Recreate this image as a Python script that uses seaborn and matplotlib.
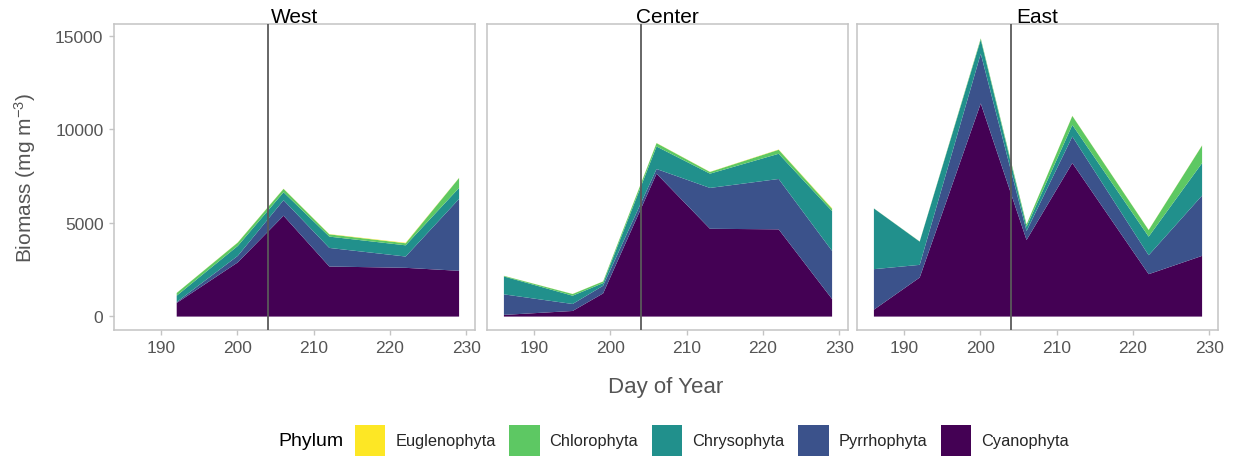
import numpy as np
import pandas as pd
import matplotlib
matplotlib.use("Agg")
import matplotlib.pyplot as plt
from matplotlib.patches import Patch
import seaborn as sns

# ---------------- data ----------------
sites = ["West", "Center", "East"]
phyla = ["Euglenophyta", "Chlorophyta", "Chrysophyta", "Pyrrhophyta", "Cyanophyta"]

west_days = [192, 200, 206, 212, 222, 229]
west_cyano = [730, 2900, 5400, 2680, 2610, 2450]
west_pyrrho = [50, 350, 830, 995, 605, 3850]
west_chryso = [340, 530, 425, 605, 600, 590]
west_chloro = [144, 180, 180, 120, 110, 530]
west_eugleno = [5, 10, 10, 15, 25, 10]

center_days = [186, 195, 199, 206, 213, 222, 229]
center_cyano = [90, 300, 1240, 7650, 4700, 4670, 940]
center_pyrrho = [1100, 374, 411, 250, 2187, 2696, 2574]
center_chryso = [958, 444, 142, 1205, 763, 1349, 2131]
center_chloro = [32, 89, 88, 178, 90, 213, 124]
center_eugleno = [5, 5, 5, 10, 10, 15, 30]

east_days = [186, 192, 200, 206, 212, 222, 229]
east_cyano = [370, 2090, 11410, 4100, 8220, 2270, 3250]
east_pyrrho = [2168, 679, 2665, 479, 1418, 1014, 3229]
east_chryso = [3248, 1242, 746, 231, 621, 994, 1739]
east_chloro = [4, 9, 69, 124, 480, 355, 941]
east_eugleno = [2, 2, 5, 5, 10, 10, 10]

event_day = 204
x_ticks = [190, 200, 210, 220, 230]
y_ticks = [0, 5000, 10000, 15000]

# ---------------- long table ----------------
rows = []
for site, days, series in [
    ("West", west_days, [west_eugleno, west_chloro, west_chryso, west_pyrrho, west_cyano]),
    ("Center", center_days, [center_eugleno, center_chloro, center_chryso, center_pyrrho, center_cyano]),
    ("East", east_days, [east_eugleno, east_chloro, east_chryso, east_pyrrho, east_cyano]),
]:
    for ph, vals in zip(phyla, series):
        for d, v in zip(days, vals):
            rows.append({"Site": site, "Day": d, "Phylum": ph, "Biomass": v})
df = pd.DataFrame(rows)

# ---------------- style ----------------
sns.set_theme(style="white")
plt.rcParams["font.family"] = ["Liberation Sans", "DejaVu Sans"]
plt.rcParams["mathtext.fontset"] = "custom"
plt.rcParams["mathtext.rm"] = "Liberation Sans"
plt.rcParams["mathtext.it"] = "Liberation Sans:italic"

colors = {"Euglenophyta": "#FDE725", "Chlorophyta": "#5DC863", "Chrysophyta": "#21908C",
          "Pyrrhophyta": "#3B528B", "Cyanophyta": "#440154"}
stack_order = phyla[::-1]  # Cyanophyta at bottom

W, H = 1236, 460
fig = plt.figure(figsize=(W / 100, H / 100), dpi=100)

panel_lefts = [114, 487, 857]
panel_w = 361
panel_top, panel_bot = 25, 331
border_col = "#C4C4C4"
text_col = "#555555"

for site, left in zip(sites, panel_lefts):
    ax = fig.add_axes([left / W, (H - panel_bot) / H, panel_w / W, (panel_bot - panel_top) / H])
    sub = df[df["Site"] == site].pivot(index="Day", columns="Phylum", values="Biomass")
    ax.stackplot(sub.index.values, [sub[p].values for p in stack_order],
                 colors=[colors[p] for p in stack_order], linewidth=0, antialiased=True)
    ax.axvline(event_day, color="#5A5A5A", lw=1.3, zorder=5)
    ax.set_xlim(183.85, 231.15)
    ax.set_ylim(-745, 15635)
    ax.set_xticks(x_ticks)
    ax.set_yticks(y_ticks)
    ax.set_xticklabels([str(t) for t in x_ticks])
    if left == panel_lefts[0]:
        ax.set_yticklabels([str(t) for t in y_ticks])
        ax.tick_params(axis="y", left=True, length=3.6, width=1.0, color=border_col,
                       labelsize=12.5, labelcolor=text_col, pad=4)
    else:
        ax.tick_params(axis="y", left=False, labelleft=False)
    ax.tick_params(axis="x", bottom=True, length=3.6, width=1.0, color=border_col,
                   labelsize=12.5, labelcolor=text_col, pad=3.5)
    for sp in ax.spines.values():
        sp.set_visible(True)
        sp.set_color(border_col)
        sp.set_linewidth(1.1)
    ax.grid(False)
    ax.set_xlabel("")
    ax.set_ylabel("")
    ax.set_title(site, fontsize=15, color="black", pad=1.5)

fig.text(25 / W, 1 - 178 / H, "Biomass (mg m$^{-3}$)", rotation=90, ha="center", va="center",
         fontsize=15, color=text_col)
fig.text(666 / W, (H - 393) / H, "Day of Year", ha="center", va="baseline",
         fontsize=16, color=text_col)

# legend
fig.text(278 / W, (H - 441.5) / H, "Phylum", ha="left", va="center", fontsize=14, color="black")
handles = [Patch(facecolor=colors[p], edgecolor="none", label=p) for p in phyla]
fig.legend(handles=handles, loc="center left", bbox_to_anchor=(355 / W, (H - 441.5) / H),
           ncol=5, frameon=False, fontsize=11.8, handlelength=1.85, handleheight=2.6,
           handletextpad=0.6, columnspacing=0.85, borderpad=0, borderaxespad=0)

fig.savefig("out.png", dpi=100)
